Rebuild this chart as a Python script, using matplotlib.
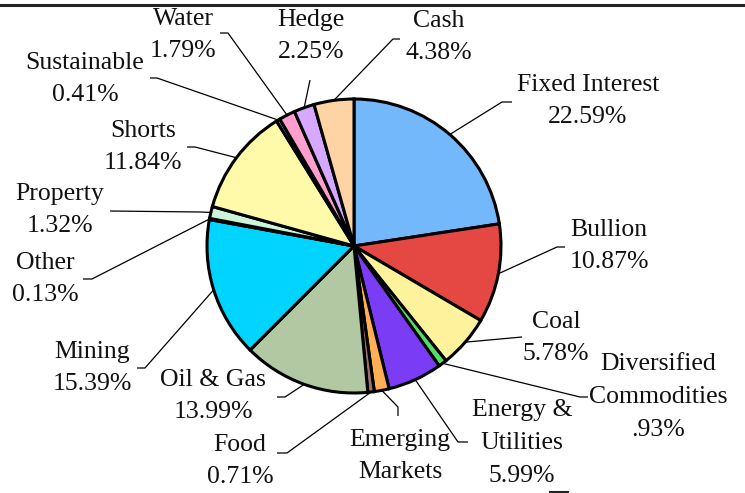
import matplotlib
matplotlib.use("Agg")
import matplotlib.pyplot as plt
import numpy as np

# ---- data ----
categories = ["Fixed Interest", "Bullion", "Coal", "Diversified Commodities",
              "Energy & Utilities", "Emerging Markets", "Food", "Oil & Gas",
              "Mining", "Other", "Property", "Shorts", "Sustainable", "Water",
              "Hedge", "Cash"]
values = [22.59, 10.87, 5.78, 0.93, 5.99, 1.63, 0.71, 13.99,
          15.39, 0.13, 1.32, 11.84, 0.41, 1.79, 2.25, 4.38]
label_texts = ["Fixed Interest\n22.59%", "Bullion\n10.87%", "Coal\n5.78%",
               "Diversified\nCommodities\n.93%", "Energy &\nUtilities\n5.99%",
               "Emerging\nMarkets", "Food\n0.71%", "Oil & Gas\n13.99%",
               "Mining\n15.39%", "Other\n0.13%", "Property\n1.32%",
               "Shorts\n11.84%", "Sustainable\n0.41%", "Water\n1.79%",
               "Hedge\n2.25%", "Cash\n4.38%"]
colors = ["#74b8fc", "#e54843", "#fff29c", "#55dd66", "#7b3cf5", "#ffb055",
          "#9c7070", "#b1c8a2", "#00d4ff", "#111111", "#ccf5d8", "#fffaaa",
          "#8cc8f0", "#ff9fd0", "#d7a8ff", "#ffd4a5"]

# ---- layout (pixel coords, origin top-left) ----
W, H = 745, 493
cx, cy, R = 354, 246, 147
text_pos = [(588, 101), (609, 246), (556, 338), (658, 397), (522, 443),
            (400, 456), (240, 461), (213, 396), (92, 368), (45, 279),
            (60, 210), (143, 147), (85, 79), (183, 35), (311, 36), (439, 37)]
elbow_pos = [(502, 102), (557, 247), (522, 337), (580, 397), (458, 442),
             (398, 407), (287, 453), (285, 397), (145, 368), (92, 279),
             (200, 212), (195, 147), (157, 78), (228, 33), (310, 80), (393, 39)]
end_pos = [(512, 102), (565, 247), (522, 337), (588, 397), (468, 442),
           (398, 416), (277, 453), (277, 397), (137, 368), (83, 279),
           (110, 211), (187, 147), (150, 78), (220, 33), (310, 80), (400, 39)]

plt.rcParams['font.family'] = ['Liberation Serif', 'DejaVu Serif']

fig = plt.figure(figsize=(W / 100, H / 100), dpi=100)
ax = fig.add_axes([0, 0, 1, 1])

wedges, _ = ax.pie(values, colors=colors, startangle=90, counterclock=False,
                   center=(cx, H - cy), radius=R,
                   wedgeprops=dict(edgecolor="black", linewidth=2.2))
ax.set_xlim(0, W)
ax.set_ylim(0, H)
ax.set_aspect("equal")
ax.axis("off")

for w, txt, tp, ep, enp in zip(wedges, label_texts, text_pos, elbow_pos, end_pos):
    mid = np.deg2rad((w.theta1 + w.theta2) / 2)
    sx = cx + R * np.cos(mid)
    sy = (H - cy) + R * np.sin(mid)
    ax.plot([sx, ep[0], enp[0]], [sy, H - ep[1], H - enp[1]],
            color="black", lw=0.9, solid_capstyle="butt", zorder=1)
    ax.text(tp[0], H - tp[1], txt, ha="center", va="center", fontsize=18.5,
            linespacing=1.62, color="#111111")

# top rule and small mark at bottom
ax.plot([0, W], [H - 5, H - 5], color="#222222", lw=2.2, clip_on=False)
ax.plot([550, 568], [H - 492, H - 492], color="#222222", lw=1.5, clip_on=False)

fig.savefig("out.png", dpi=100)
